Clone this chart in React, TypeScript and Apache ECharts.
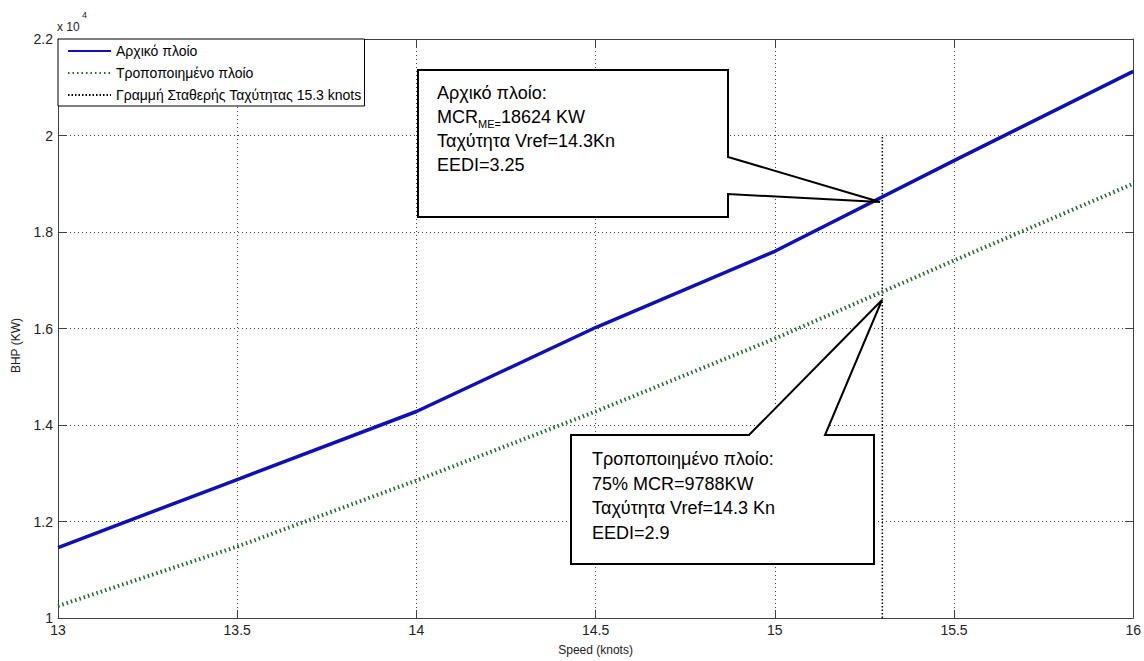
import React, { useEffect, useRef } from "react";
import * as echarts from "echarts";

const speeds = [13, 13.5, 14, 14.5, 15, 15.5, 16];
const originalBhp = [11460, 12870, 14280, 16020, 17600, 19480, 21330];
const modifiedBhp = [10250, 11480, 12850, 14280, 15790, 17410, 19000];
const refSpeed = 15.3;
const refLineBhp = [10000, 20000];
const seriesNames = [
  "Αρχικό πλοίο",
  "Τροποποιημένο πλοίο",
  "Γραμμή Σταθερής Ταχύτητας 15.3 knots",
];
const xTickStep = 0.5;
const yTickStep = 2000;
const FONT = "Liberation Sans, Arial, sans-serif";

export default function App() {
  const ref = useRef<HTMLDivElement>(null);
  useEffect(() => {
    if (!ref.current) return;
    const chart = echarts.init(ref.current, null, { renderer: "svg" });
    const axisLine = { show: true, lineStyle: { color: "#404040", width: 1 } };
    const tick = { show: true, inside: true, length: 8, lineStyle: { color: "#404040" } };
    const grid = { show: true, lineStyle: { color: "#444", width: 1, type: [1, 3] } };
    chart.setOption({
      animation: false,
      backgroundColor: "#fff",
      grid: { left: 58, right: 5, top: 39, bottom: 37, containLabel: false },
      legend: {
        orient: "vertical",
        left: 58,
        top: 39,
        padding: [5, 3, 4, 9],
        itemWidth: 43,
        itemHeight: 14,
        itemGap: 8,
        backgroundColor: "#fff",
        borderColor: "#000",
        borderWidth: 1,
        borderRadius: 0,
        itemStyle: { opacity: 0 },
        textStyle: { fontSize: 14, color: "#000", fontFamily: FONT },
        data: seriesNames,
      },
      xAxis: [
        {
          type: "value",
          min: 13,
          max: 16,
          interval: xTickStep,
          name: "Speed (knots)",
          nameLocation: "middle",
          nameGap: 26,
          nameTextStyle: { fontSize: 12, color: "#222", fontFamily: FONT },
          axisLine,
          axisTick: tick,
          axisLabel: { fontSize: 14, color: "#222", margin: 5, fontFamily: FONT },
          splitLine: grid,
        },
        {
          type: "value",
          position: "top",
          min: 13,
          max: 16,
          interval: xTickStep,
          axisLine,
          axisTick: tick,
          axisLabel: { show: false },
          splitLine: { show: false },
        },
      ],
      yAxis: [
        {
          type: "value",
          min: 10000,
          max: 22000,
          interval: yTickStep,
          name: "BHP (KW)",
          nameLocation: "middle",
          nameGap: 36,
          nameTextStyle: { fontSize: 12, color: "#222", fontFamily: FONT, padding: [0, 0, 0, -34] },
          axisLine,
          axisTick: tick,
          axisLabel: {
            fontSize: 14,
            color: "#222",
            margin: 5,
            fontFamily: FONT,
            formatter: (v: number) => String(Math.round(v / 1000) / 10),
          },
          splitLine: grid,
        },
        {
          type: "value",
          position: "right",
          min: 10000,
          max: 22000,
          interval: yTickStep,
          axisLine,
          axisTick: tick,
          axisLabel: { show: false },
          splitLine: { show: false },
        },
      ],
      series: [
        {
          name: seriesNames[0],
          type: "line",
          symbol: "none",
          data: speeds.map((s, i) => [s, originalBhp[i]]),
          lineStyle: { color: "#1010bb", width: 3.5 },
          itemStyle: { color: "#1010bb" },
          z: 3,
        },
        {
          name: seriesNames[1],
          type: "line",
          symbol: "none",
          data: speeds.map((s, i) => [s, modifiedBhp[i]]),
          lineStyle: { color: "#236b2c", width: 4, type: [1.5, 3] },
          itemStyle: { color: "#236b2c" },
          z: 3,
        },
        {
          name: seriesNames[2],
          type: "line",
          symbol: "none",
          data: refLineBhp.map((b) => [refSpeed, b]),
          lineStyle: { color: "#000", width: 1.5, type: [1.5, 2] },
          itemStyle: { color: "#000" },
          z: 2,
        },
      ],
      graphic: [
        {
          type: "text",
          x: 57,
          y: 21,
          z: 100,
          style: { text: "x 10", fontSize: 12, fill: "#222", fontFamily: FONT },
        },
        {
          type: "text",
          x: 82,
          y: 10,
          z: 100,
          style: { text: "4", fontSize: 9, fill: "#222", fontFamily: FONT },
        },
        {
          type: "polygon",
          z: 100,
          shape: {
            points: [
              [418, 70],
              [728, 70],
              [728, 157],
              [880, 202],
              [728, 194],
              [728, 217],
              [418, 217],
            ],
          },
          style: { fill: "#fff", stroke: "#000", lineWidth: 2 },
        },
        {
          type: "text",
          x: 437,
          y: 81,
          z: 101,
          style: {
            text: "Αρχικό πλοίο:\nMCR{sub|ME=}18624 KW\nΤαχύτητα Vref=14.3Kn\nEEDI=3.25",
            fontSize: 18,
            lineHeight: 24,
            fill: "#000",
            fontFamily: FONT,
            rich: {
              sub: { fontSize: 11, fontFamily: FONT, fill: "#000", verticalAlign: "bottom", lineHeight: 24, padding: [6, 0, 0, 0] },
            },
          },
        },
        {
          type: "polygon",
          z: 100,
          shape: {
            points: [
              [571, 435],
              [749, 435],
              [882, 300],
              [825, 435],
              [874, 435],
              [874, 564],
              [571, 564],
            ],
          },
          style: { fill: "#fff", stroke: "#000", lineWidth: 2 },
        },
        {
          type: "text",
          x: 592,
          y: 447,
          z: 101,
          style: {
            text: "Τροποποιημένο πλοίο:\n75% MCR=9788KW\nΤαχύτητα Vref=14.3 Kn\nEEDI=2.9",
            fontSize: 18,
            lineHeight: 24.5,
            fill: "#000",
            fontFamily: FONT,
          },
        },
      ],
    });
    return () => chart.dispose();
  }, []);
  return (
    <div
      ref={ref}
      style={{ position: "fixed", left: 0, top: 0, width: 1144, height: 661, background: "#fff" }}
    />
  );
}
